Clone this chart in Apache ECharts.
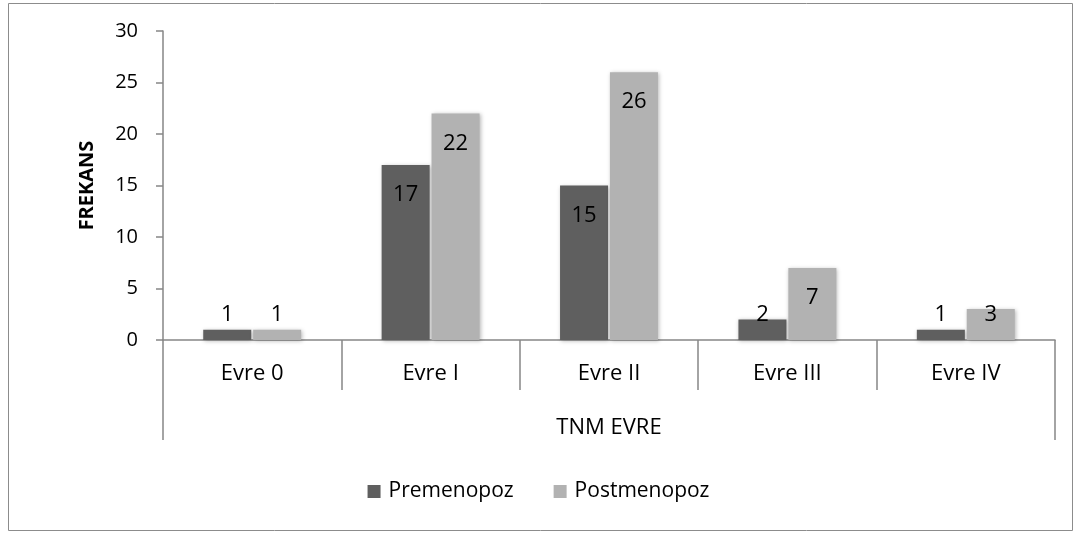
<!DOCTYPE html>
<html>
<head>
<meta charset="utf-8">
<script src="https://cdn.jsdelivr.net/npm/echarts@6/dist/echarts.min.js"></script>
<style>
  html, body { margin: 0; padding: 0; background: #ffffff; }
  #chart { width: 1077px; height: 534px; }
</style>
</head>
<body>
<div id="chart"></div>
<script>
// Stage categories and group title
const categories = ['Evre 0', 'Evre I', 'Evre II', 'Evre III', 'Evre IV'];
const groupTitle = ['TNM EVRE'];

// Frequencies per stage
const premenopoz = [1, 17, 15, 2, 1];
const postmenopoz = [1, 22, 26, 7, 3];

const seriesNames = ['Premenopoz', 'Postmenopoz'];
const yTicks = { min: 0, max: 30, interval: 5 };

const FONT = "'Open Sans', 'Liberation Sans', sans-serif";
const AXIS_COLOR = '#868686';

// Tall bars carry the value inside the top; short bars sit it just above the axis
function withLabels(values) {
  return values.map(function (v) {
    const fitsInside = v >= 5;
    return {
      value: v,
      label: fitsInside
        ? { position: 'insideTop', distance: 19 }
        : { position: 'insideBottom', distance: 14 }
    };
  });
}

const barLabel = {
  show: true,
  color: '#000000',
  fontSize: 22,
  fontFamily: FONT
};

const barShadow = {
  shadowBlur: 4,
  shadowColor: 'rgba(0,0,0,0.28)',
  shadowOffsetX: 1,
  shadowOffsetY: 1
};

const chart = echarts.init(document.getElementById('chart'), null, { renderer: 'canvas' });

chart.setOption({
  animation: false,
  backgroundColor: '#ffffff',
  textStyle: { fontFamily: FONT },
  graphic: [{
    type: 'rect',
    shape: { x: 8.5, y: 3.5, width: 1064, height: 527 },
    style: { fill: 'none', stroke: '#8c8c8c', lineWidth: 1 },
    silent: true,
    z: -1
  }],
  grid: { left: 163, right: 22, top: 31, bottom: 194, containLabel: false },
  legend: {
    data: seriesNames,
    bottom: 27,
    left: 'center',
    icon: 'rect',
    itemWidth: 13,
    itemHeight: 13,
    itemGap: 40,
    textStyle: { fontSize: 21, color: '#000000', fontFamily: FONT, padding: [0, 0, 0, 3] }
  },
  xAxis: [
    {
      type: 'category',
      data: categories,
      position: 'bottom',
      boundaryGap: true,
      axisLine: { show: true, lineStyle: { color: AXIS_COLOR, width: 1.5 } },
      axisTick: { show: true, interval: 0, length: 50, lineStyle: { color: AXIS_COLOR, width: 1.5 } },
      axisLabel: { interval: 0, margin: 23, fontSize: 22, color: '#000000', fontFamily: FONT },
      splitLine: { show: false }
    },
    {
      type: 'category',
      data: groupTitle,
      position: 'bottom',
      offset: 50,
      boundaryGap: true,
      axisLine: { show: false },
      axisTick: { show: true, interval: 0, length: 50, lineStyle: { color: AXIS_COLOR, width: 1.5 } },
      axisLabel: { interval: 0, margin: 27, fontSize: 22, color: '#000000', fontFamily: FONT },
      splitLine: { show: false }
    }
  ],
  yAxis: {
    type: 'value',
    min: yTicks.min,
    max: yTicks.max,
    interval: yTicks.interval,
    name: 'FREKANS',
    nameLocation: 'middle',
    nameGap: 66,
    nameTextStyle: { fontSize: 20, fontWeight: 'bold', color: '#000000', fontFamily: FONT },
    axisLine: { show: true, lineStyle: { color: AXIS_COLOR, width: 1.5 } },
    axisTick: { show: true, length: 7, lineStyle: { color: AXIS_COLOR, width: 1.5 } },
    axisLabel: { margin: 25, fontSize: 20, color: '#000000', fontFamily: FONT },
    splitLine: { show: false }
  },
  series: [
    {
      name: seriesNames[0],
      type: 'bar',
      xAxisIndex: 0,
      barWidth: 48,
      barGap: '4%',
      itemStyle: Object.assign({ color: '#5f5f5f' }, barShadow),
      label: barLabel,
      data: withLabels(premenopoz)
    },
    {
      name: seriesNames[1],
      type: 'bar',
      xAxisIndex: 0,
      barWidth: 48,
      barGap: '4%',
      itemStyle: Object.assign({ color: '#b2b2b2' }, barShadow),
      label: barLabel,
      data: withLabels(postmenopoz)
    }
  ]
});
</script>
</body>
</html>
